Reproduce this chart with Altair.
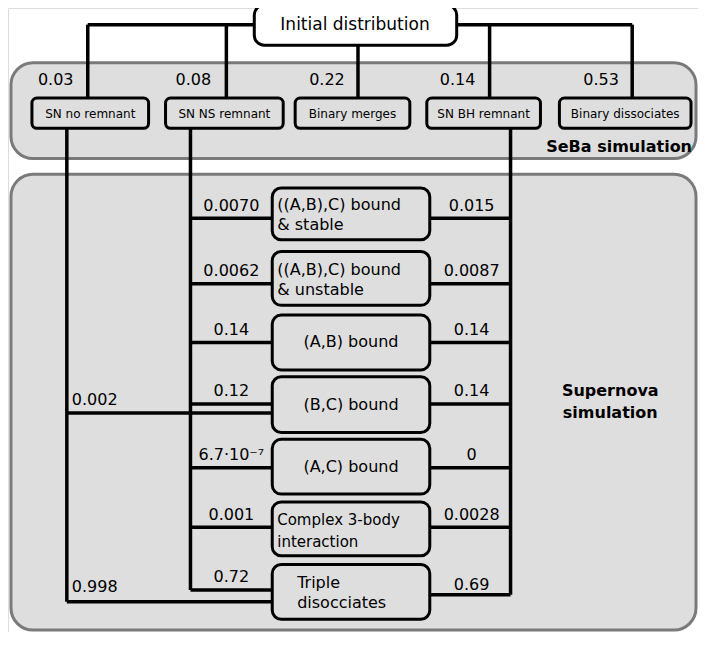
import altair as alt
import pandas as pd

# SeBa stage
seba_labels = ["SN no remnant", "SN NS remnant", "Binary merges", "SN BH remnant", "Binary dissociates"]
seba_probs = ["0.03", "0.08", "0.22", "0.14", "0.53"]

# Supernova stage
sn_labels = ["((A,B),C) bound\n& stable", "((A,B),C) bound\n& unstable", "(A,B) bound",
             "(B,C) bound", "(A,C) bound", "Complex 3-body\ninteraction", "Triple\ndisocciates"]
ns_probs = ["0.0070", "0.0062", "0.14", "0.12", "6.7·10⁻⁷", "0.001", "0.72"]
bh_probs = ["0.015", "0.0087", "0.14", "0.14", "0", "0.0028", "0.69"]
no_rem_probs = ["0.002", "0.998"]  # to (B,C) bound and Triple disocciates

# layout (pixel-like coordinates)
seba_x0 = [32, 166, 296, 428, 561]
seba_x1 = [149, 284, 411, 542, 693]
sn_y0 = [192, 257, 322, 385, 449, 513, 577]
sn_y1 = [245, 312, 378, 442, 505, 568, 633]
sn_line_y = [223, 290, 350, 413, 478, 539, 603]
sn_align = ["left", "left", "center", "center", "center", "left", "left"]
X_NO, X_NS, X_BH, BX0, BX1 = 67, 191, 512, 273, 431

X = alt.X("x:Q", scale=alt.Scale(domain=[8, 700]), axis=None)
Y = alt.Y("y:Q", scale=alt.Scale(domain=[646, 8]), axis=None)

panels = pd.DataFrame({"x": [11, 11], "x2": [698, 698], "y": [64, 178], "y2": [162, 644]})
panel = alt.Chart(panels).mark_rect(fill="#dedede", stroke="#7a7a7a", strokeWidth=3,
                                    cornerRadius=22).encode(X, Y, x2="x2:Q", y2="y2:Q")

# connecting segments
segs = [
    (88, 25, 255, 25), (88, 25, 88, 100), (227, 25, 227, 100), (359, 46, 359, 100),
    (458, 25, 634, 25), (491, 25, 491, 100), (634, 25, 634, 100),
    (X_NO, 130, X_NO, 615), (X_NS, 130, X_NS, 603), (X_BH, 130, X_BH, 608),
    (X_NO, 422, BX0, 422), (X_NO, 615, BX0, 615),
]
for i, ly in enumerate(sn_line_y):
    segs.append((X_NS, ly, BX0, ly))
    segs.append((BX1, ly + (5 if i == 6 else 0), X_BH, ly + (5 if i == 6 else 0)))
seg_df = pd.DataFrame(segs, columns=["x", "y", "x2", "y2"])
lines = alt.Chart(seg_df).mark_rule(color="black", strokeWidth=3.5).encode(X, Y, x2="x2:Q", y2="y2:Q")

boxes_df = pd.DataFrame(
    {"x": [255] + seba_x0 + [BX0] * 7, "x2": [458] + seba_x1 + [BX1] * 7,
     "y": [5] + [100] * 5 + sn_y0, "y2": [46] + [131] * 5 + sn_y1,
     "fill": ["white"] + ["#dedede"] * 12,
     "r": [10] + [5] * 5 + [9] * 7})
boxes = alt.layer(*[
    alt.Chart(boxes_df[boxes_df.r == r]).mark_rect(stroke="black", strokeWidth=3, cornerRadius=r)
    .encode(X, Y, x2="x2:Q", y2="y2:Q", fill=alt.Fill("fill:N", scale=None))
    for r in [10, 5, 9]])

font = "DejaVu Sans"
top_txt = alt.Chart(pd.DataFrame({"x": [356], "y": [25], "t": ["Initial distribution"]})).mark_text(
    font=font, fontSize=17).encode(X, Y, text="t:N")

seba_df = pd.DataFrame({"x": [(a + b) / 2 for a, b in zip(seba_x0, seba_x1)], "y": [116] * 5, "t": seba_labels})
seba_txt = alt.Chart(seba_df).mark_text(font=font, fontSize=12).encode(X, Y, text="t:N")
prob_df = pd.DataFrame({"x": [38, 176, 310, 441, 585], "y": [82] * 5, "t": seba_probs})
prob_txt = alt.Chart(prob_df).mark_text(font=font, fontSize=16, align="left").encode(X, Y, text="t:N")

sn_df = pd.DataFrame({"x": [(BX0 + BX1) / 2 if a == "center" else (298 if i == 6 else 278)
                            for i, a in enumerate(sn_align)],
                      "y": [(a + b) / 2 + (0 if "\n" not in t else -9) for a, b, t in zip(sn_y0, sn_y1, sn_labels)],
                      "t": [t.split("\n") for t in sn_labels], "a": sn_align,
                      "fs": [16, 16, 16, 16, 16, 15, 16]})
sn_txt = alt.layer(*[
    alt.Chart(sn_df[(sn_df.a == a) & (sn_df.fs == fs)]).mark_text(
        font=font, fontSize=fs, align=a, lineHeight=20 if fs == 16 else 22).encode(X, Y, text="t")
    for a in ["left", "center"] for fs in [15, 16]])

ns_df = pd.DataFrame({"x": [232] * 7, "y": [ly - 13 for ly in sn_line_y], "t": ns_probs})
ns_txt = alt.Chart(ns_df).mark_text(font=font, fontSize=16).encode(X, Y, text="t:N")
bh_df = pd.DataFrame({"x": [473] * 7, "y": [ly - 13 for ly in sn_line_y[:6]] + [598], "t": bh_probs})
bh_txt = alt.Chart(bh_df).mark_text(font=font, fontSize=16).encode(X, Y, text="t:N")
no_df = pd.DataFrame({"x": [72, 72], "y": [409, 600], "t": no_rem_probs})
no_txt = alt.Chart(no_df).mark_text(font=font, fontSize=16, align="left").encode(X, Y, text="t:N")

titles = alt.Chart(pd.DataFrame({"x": [694, 612], "y": [150, 400],
                                 "t": [["SeBa simulation"], ["Supernova", "simulation"]],
                                 "a": ["right", "center"]}))
title_txt = alt.layer(
    titles.transform_filter("datum.a == 'right'").mark_text(font=font, fontSize=16, fontWeight="bold",
                                                            align="right").encode(X, Y, text="t"),
    titles.transform_filter("datum.a == 'center'").mark_text(font=font, fontSize=16, fontWeight="bold",
                                                             lineHeight=22).encode(X, Y, text="t"),
)

chart = alt.layer(panel, lines, boxes, top_txt, seba_txt, prob_txt, sn_txt, ns_txt, bh_txt, no_txt,
                  title_txt).properties(width=690, height=624, padding=0,
                                        autosize=alt.AutoSizeParams(type="none")
                  ).configure_view(stroke=None).configure(background="white")
chart.save("out.html", embed_options={"renderer": "svg", "actions": False})
